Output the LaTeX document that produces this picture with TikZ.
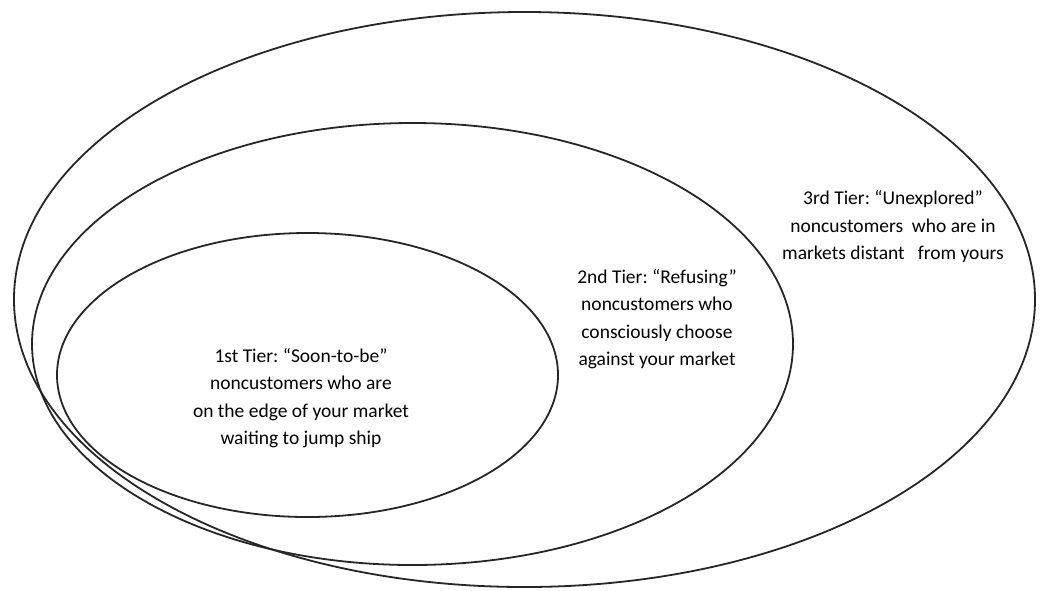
\documentclass[tikz,border=0pt]{standalone}
\usepackage{fontspec}
\setmainfont{Carlito}
\usepackage{tikz}
\frenchspacing
\definecolor{linegray}{gray}{0.15}
\def\outerellipse{(524.5,299.5) ellipse (510.5 and 287.5)}
\def\middleellipse{(412.5,344) ellipse (380.5 and 221)}
\def\innerellipse{(307.5,375) ellipse (250.5 and 142)}

\begin{document}
\begin{tikzpicture}[x=1pt,y=-1pt,
  tier/.style={align=center,font=\fontsize{19.5}{27.5}\selectfont,text=black}]
\useasboundingbox (0,0) rectangle (1040,590);
\draw[linegray,line width=1.8pt] \outerellipse;
\draw[linegray,line width=1.8pt] \middleellipse;
\draw[linegray,line width=1.8pt] \innerellipse;
\node[tier] (tierone) at (301,398) {1st Tier: “Soon-to-be”\\noncustomers who are\\on the edge of your market\\waiting to jump ship};
\node[tier] (tiertwo) at (657,319) {2nd Tier: “Refusing”\\noncustomers who\\consciously choose\\against your market};
\node[tier] (tierthree) at (893,227) {3rd Tier: “Unexplored”\\noncustomers\ \ who are in\\markets distant\ \ \ from yours};
\end{tikzpicture}
\end{document}
